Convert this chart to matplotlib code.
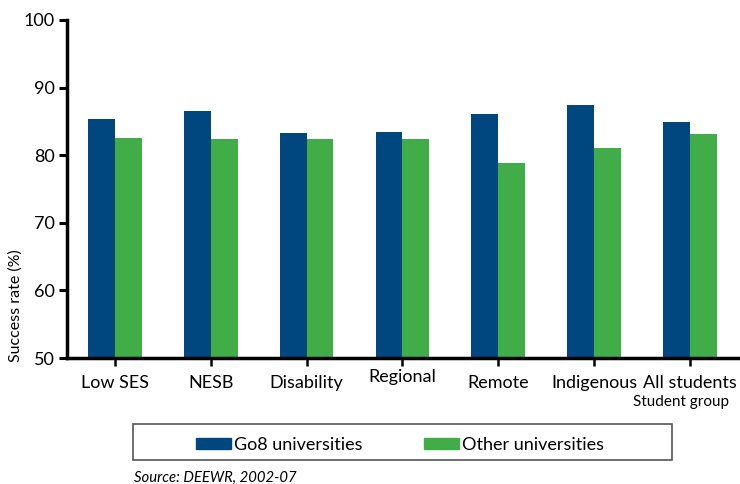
import matplotlib.pyplot as plt
import numpy as np
from matplotlib.patches import Rectangle

plt.rcParams['font.family'] = ['Lato', 'DejaVu Sans']

grupos = ['Low SES', 'NESB', 'Disability', 'Regional', 'Remote', 'Indigenous', 'All students']
go8 = [85.4, 86.5, 83.3, 83.4, 86.1, 87.4, 84.9]
outras = [82.5, 82.4, 82.4, 82.4, 78.8, 81.1, 83.1]
series = ['Go8 universities', 'Other universities']

cor_go8 = '#00467F'
cor_outras = '#41AD49'

fig = plt.figure(figsize=(7.4, 4.84), dpi=100)
ax = fig.add_axes([0.0905, 0.2603, 0.9065, 0.6984])

x = np.arange(len(grupos))
largura = 0.28
ax.bar(x - largura / 2, go8, largura, color=cor_go8, label=series[0])
ax.bar(x + largura / 2, outras, largura, color=cor_outras, label=series[1])

ax.set_xlim(-0.5, len(grupos) - 0.5)
ax.set_ylim(50, 100)
ax.set_yticks(range(50, 101, 10))
ax.set_xticks(x)
ax.set_xticklabels(grupos, fontsize=13)
ax.tick_params(axis='y', labelsize=13, length=6, width=2.2, direction='out', pad=3)
ax.tick_params(axis='x', length=6, width=1.8, direction='out', pad=6)

# "Regional" sits a little higher than the other labels
for rotulo in ax.get_xticklabels():
    if rotulo.get_text() == 'Regional':
        rotulo.set_y(0.018)

for lado in ['top', 'right']:
    ax.spines[lado].set_visible(False)
ax.spines['left'].set_linewidth(2.5)
ax.spines['bottom'].set_linewidth(2.5)

ax.set_ylabel('Success rate (%)', fontsize=11.5)
ax.yaxis.set_label_coords(-0.066, 0.155)
fig.text(0.985, 0.161, 'Student group', fontsize=11, ha='right', va='baseline')

# caixa da legenda desenhada à parte
caixa = Rectangle((0.18, 0.0496), 0.728, 0.0744, transform=fig.transFigure,
                  facecolor='white', edgecolor='#555555', linewidth=1.2)
fig.patches.append(caixa)

handles = [Rectangle((0, 0), 1, 1, color=cor_go8), Rectangle((0, 0), 1, 1, color=cor_outras)]
fig.legend(handles, series, loc='center', bbox_to_anchor=(0.541, 0.0805, 0.0, 0.0),
           ncol=2, fontsize=13, frameon=False,
           handlelength=1.9, handleheight=0.6, columnspacing=3.4, handletextpad=0.2)

fig.text(0.181, 0.004, 'Source: DEEWR, 2002-07', fontsize=10.7, style='italic',
         ha='left', va='baseline')

fig.savefig('out.png', dpi=100)
